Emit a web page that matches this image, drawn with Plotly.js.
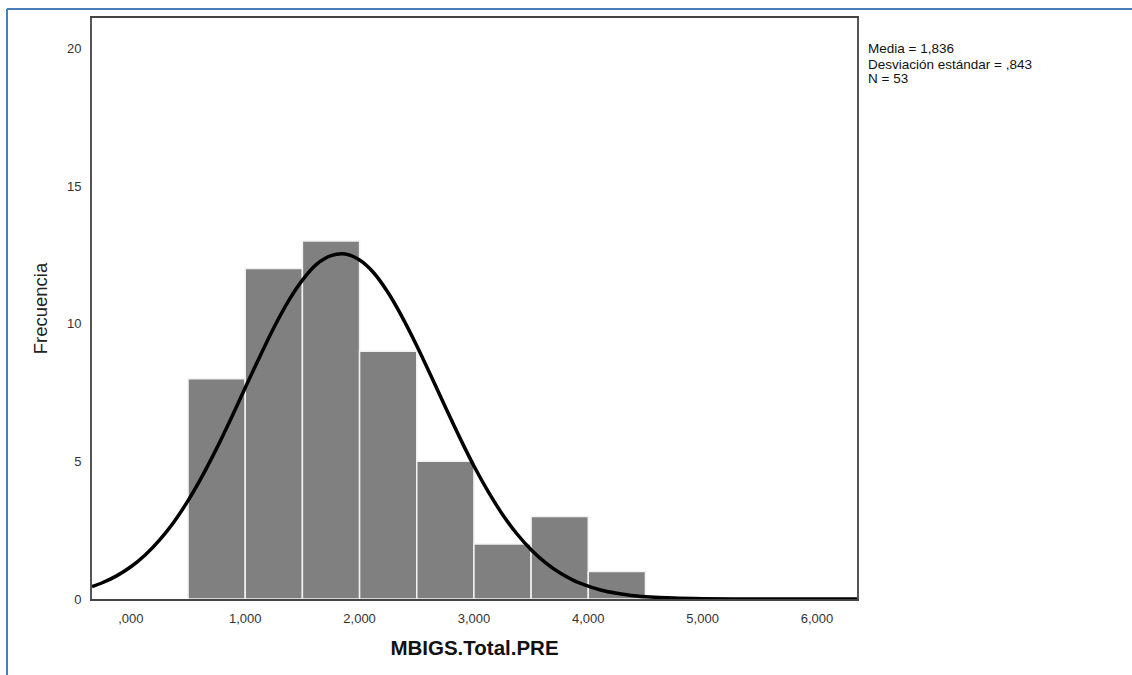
<!DOCTYPE html>
<html><head><meta charset="utf-8">
<script src="https://cdn.plot.ly/plotly-3.0.1.min.js"></script>
<style>html,body{margin:0;padding:0;background:#fff}#chart{width:1132px;height:675px}</style>
</head><body><div id="chart"></div>
<script>
// Histogram bins (bin centers) and frequencies
var binCenters = [0.75, 1.25, 1.75, 2.25, 2.75, 3.25, 3.75, 4.25];
var frequencies = [8, 12, 13, 9, 5, 2, 3, 1];
// Normal curve
var curveX = [-0.34, -0.25, -0.125, 0, 0.125, 0.25, 0.375, 0.5, 0.625, 0.75, 0.875, 1.0, 1.125, 1.25, 1.375, 1.5, 1.625, 1.75, 1.875, 2.0, 2.125, 2.25, 2.375, 2.5, 2.625, 2.75, 2.875, 3.0, 3.125, 3.25, 3.375, 3.5, 3.625, 3.75, 3.875, 4.0, 4.125, 4.25, 4.375, 4.5, 4.75, 5.0, 5.5, 6.0, 6.35];
var curveY = [0.45, 0.59, 0.84, 1.17, 1.60, 2.14, 2.79, 3.57, 4.47, 5.47, 6.55, 7.67, 8.78, 9.85, 10.80, 11.58, 12.16, 12.47, 12.53, 12.31, 11.84, 11.12, 10.22, 9.20, 8.10, 6.97, 5.87, 4.83, 3.90, 3.07, 2.37, 1.79, 1.32, 0.95, 0.67, 0.47, 0.31, 0.21, 0.13, 0.085, 0.032, 0.011, 0.001, 0, 0];
var xTickVals = [0, 1, 2, 3, 4, 5, 6];
var xTickText = [',000', '1,000', '2,000', '3,000', '4,000', '5,000', '6,000'];
var yTickVals = [0, 5, 10, 15, 20];
var statsLines = ['Media = 1,836', 'Desviación estándar = ,843', 'N = 53'];

var L = 92, R = 857, T = 18, B = 599, W = 1132, H = 675;
function px(x){ return (x - L) / (R - L); }
function py(y){ return (B - y) / (B - T); }

var traces = [
  {type:'bar', x: binCenters, y: frequencies, width: 0.5,
   marker:{color:'#808080', line:{color:'#f2f2f2', width:1.5}}, hoverinfo:'x+y'},
  {type:'scatter', mode:'lines', x: curveX, y: curveY,
   line:{color:'#000', width:3.5, shape:'spline', smoothing:0.8}, hoverinfo:'skip'}
];

var annotations = statsLines.map(function(t, i){
  return {xref:'paper', yref:'paper', x:px(866), y:py(49 + 15*i), xanchor:'left', yanchor:'middle',
    align:'left', showarrow:false, text:t, font:{size:13.5, color:'#111'}};
});

var layout = {
  width: W, height: H,
  margin:{l:L, r:W-R, t:T, b:H-B, pad:0},
  paper_bgcolor:'#fff', plot_bgcolor:'#fff',
  showlegend:false, bargap:0,
  font:{family:'"Liberation Sans", Arial, sans-serif', color:'#333', size:13},
  xaxis:{range:[-0.34, 6.35], tickvals:xTickVals, ticktext:xTickText,
    showgrid:false, zeroline:false, showline:true, mirror:true,
    linecolor:'#444', linewidth:2, ticks:'', ticklabelstandoff:6,
    tickfont:{size:13, color:'#333'},
    title:{text:'MBIGS.Total.PRE', font:{size:20.5, color:'#111', weight:'bold'}, standoff:16}},
  yaxis:{range:[0, 21.1], tickvals:yTickVals,
    showgrid:false, zeroline:false, showline:true, mirror:true,
    linecolor:'#555', linewidth:2, ticks:'', ticklabelstandoff:6,
    tickfont:{size:13, color:'#333'},
    title:{text:'Frecuencia', font:{size:18.5, color:'#222'}, standoff:14}},
  annotations: annotations,
  shapes:[
    {type:'line', xref:'paper', yref:'paper', x0:px(7), x1:px(7), y0:py(9), y1:py(680), line:{color:'#4a7ebb', width:2}, layer:'above'},
    {type:'line', xref:'paper', yref:'paper', x0:px(7), x1:px(1140), y0:py(9), y1:py(9), line:{color:'#4a7ebb', width:2}, layer:'above'}
  ]
};
Plotly.newPlot('chart', traces, layout, {displayModeBar:false, staticPlot:true});
</script></body></html>
